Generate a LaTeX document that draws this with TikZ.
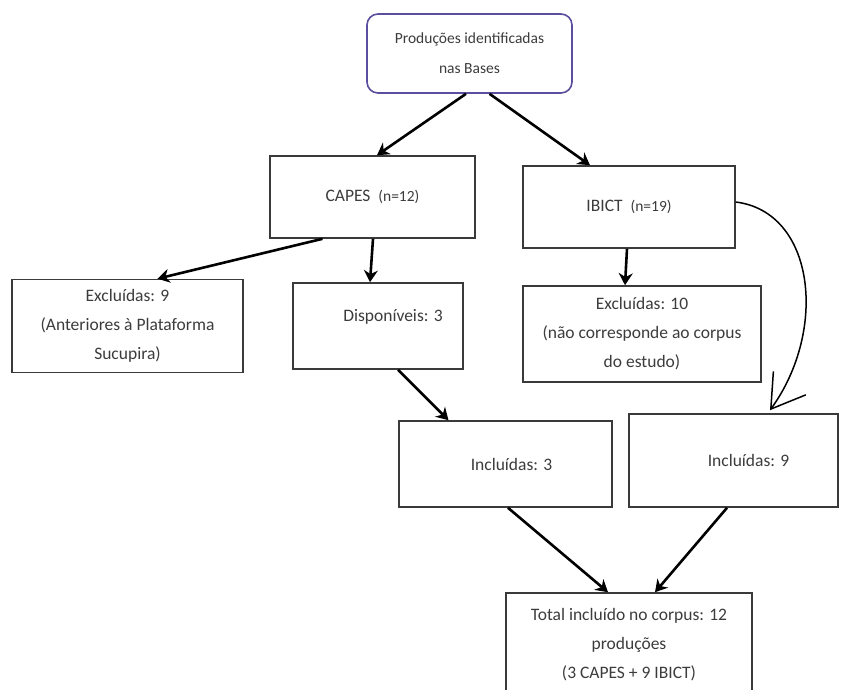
\documentclass[tikz,border=0pt]{standalone}
\usepackage{fontspec}
\setmainfont{Carlito}
\usetikzlibrary{arrows.meta}
\definecolor{boxline}{HTML}{3A3A3A}
\definecolor{txt}{HTML}{3C3C3C}
\definecolor{purp}{HTML}{5A4F9E}
\tikzset{
  box/.style={draw=boxline, line width=1.6pt, fill=white, inner sep=2pt, align=center,
    text=txt, font=\fontsize{17.5}{29}\selectfont},
  mainarrow/.style={line width=2.6pt, -{Stealth[length=12pt,width=14pt]}},
  curvearrow/.style={line width=1.5pt, -{Straight Barb[length=32pt,width=40pt,line width=1.5pt]}}
}
\begin{document}
\begin{tikzpicture}[x=1pt,y=-1pt]
\useasboundingbox (0,0) rectangle (848,689);
\clip (0,0) rectangle (848,689);
\node[box, draw=purp, rounded corners=11pt, minimum width=205pt, minimum height=79pt, font=\fontsize{15.5}{30}\selectfont] (top) at (469.5,53.5) {Produções identificadas\\nas Bases};
\node[box, minimum width=205pt, minimum height=82pt] (capes) at (372.5,197) {CAPES~~{\fontsize{15.5}{28}\selectfont (n=12)}};
\node[box, minimum width=212pt, minimum height=82pt] (ibict) at (629,207) {IBICT~~{\fontsize{15.5}{28}\selectfont (n=19)}};
\node[box, minimum width=231pt, minimum height=93pt] (exc9) at (127.5,326) {Excluídas: 9\\(Anteriores à Plataforma\\Sucupira)};
\node[box, minimum width=170pt, minimum height=86pt] (disp) at (378,326) {\hspace*{30pt}Disponíveis: 3\\[-8pt]};
\node[box, minimum width=238pt, minimum height=96pt] (exc10) at (642,334) {Excluídas: 10\\(não corresponde ao corpus\\do estudo)};
\node[box, minimum width=213pt, minimum height=86pt] (inc3) at (505.5,464) {\hspace*{12pt}Incluídas: 3};
\node[box, minimum width=209pt, minimum height=93pt] (inc9) at (733.5,460.5) {\hspace*{30pt}Incluídas: 9};
\node[box, minimum width=246pt, minimum height=104pt] (total) at (629,645) {Total incluído no corpus: 12\\produções\\(3 CAPES + 9 IBICT)};

\draw[mainarrow] ([xshift=-3.5pt]top.south) -- ([xshift=4.5pt]capes.north);
\draw[mainarrow] ([xshift=20pt]top.south) -- ([xshift=-39pt]ibict.north);
\draw[mainarrow] ([xshift=-50pt]capes.south) -- ([xshift=30pt]exc9.north);
\draw[mainarrow] ([xshift=0.5pt]capes.south) -- ([xshift=-8pt]disp.north);
\draw[mainarrow] ([xshift=-2pt]ibict.south) -- ([xshift=-17pt]exc10.north);
\draw[mainarrow] ([xshift=20pt]disp.south) -- ([xshift=-57pt]inc3.north);
\draw[mainarrow] ([xshift=2.5pt]inc3.south) -- ([xshift=-21pt]total.north);
\draw[mainarrow] ([xshift=-6.5pt]inc9.south) -- ([xshift=26pt]total.north);
\draw[curvearrow] ([yshift=5pt]ibict.east) .. controls (815,212) and (828,330) .. ([xshift=36.5pt,yshift=3pt]inc9.north);
\end{tikzpicture}
\end{document}
